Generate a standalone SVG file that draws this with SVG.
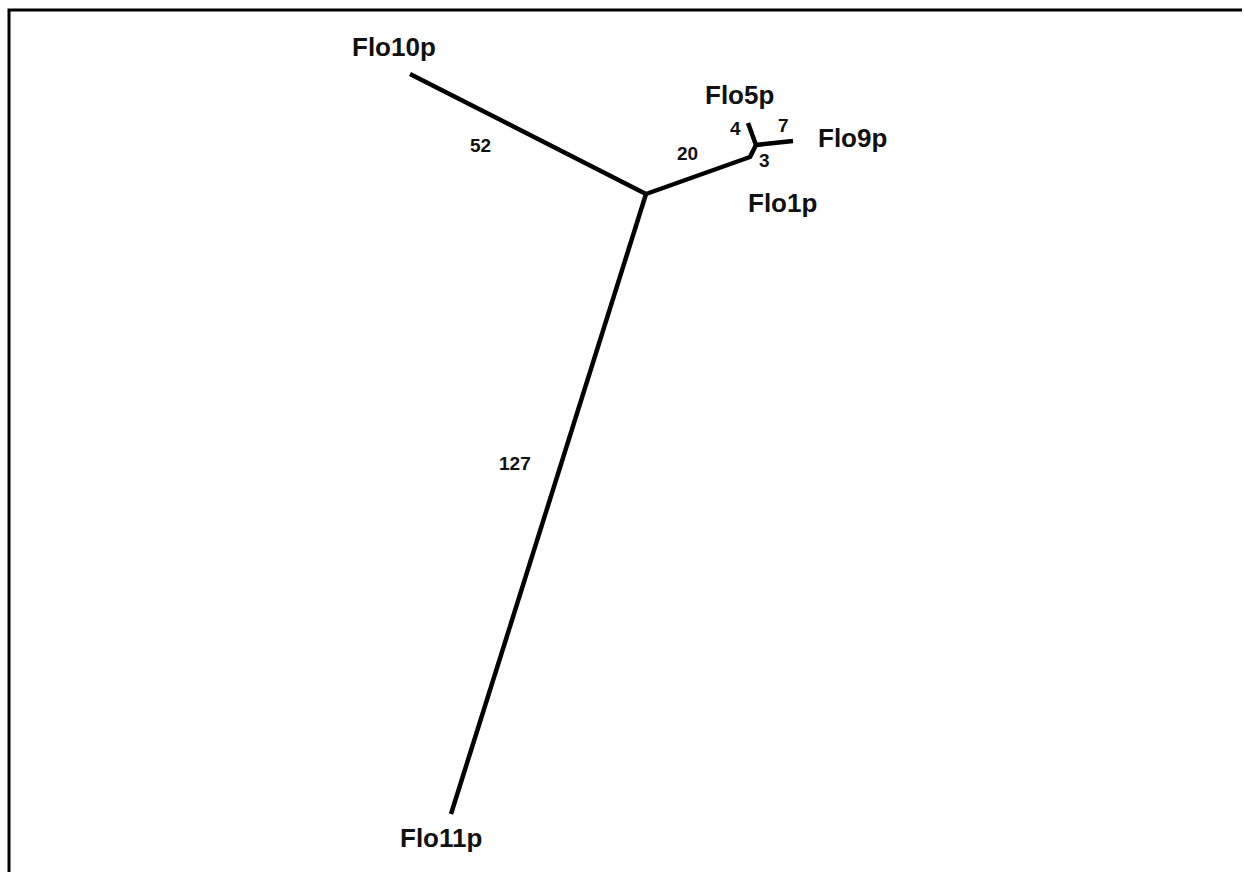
<svg xmlns="http://www.w3.org/2000/svg" width="1244" height="872" viewBox="0 0 1244 872">
<style>
.lbl{font-family:"Liberation Sans",Arial,sans-serif;font-weight:bold;font-size:26px;fill:#111}
.num{font-family:"Liberation Sans",Arial,sans-serif;font-weight:bold;font-size:19px;fill:#111}
.br{stroke:#000;stroke-width:4.5;fill:none;stroke-linecap:butt;stroke-linejoin:round}
</style>
<rect width="1244" height="872" fill="#fff"/>
<path d="M9,872 V10 H1242" stroke="#000" stroke-width="3" fill="none"/>
<g id="edges" class="br">
<path d="M646,194 L410,74"/>
<path d="M646,194 L451,814"/>
<path d="M646,194 L750,157 L756,145"/>
<path d="M756,145 L748,123"/>
<path d="M756,145 L793,141"/>
</g>
<g id="Flo10p"><text class="lbl" x="352" y="56">Flo10p</text><text class="num" x="470" y="152">52</text></g>
<g id="Flo11p"><text class="lbl" x="400" y="847">Flo11p</text><text class="num" x="499" y="470">127</text></g>
<g id="internal"><text class="num" x="677" y="160">20</text></g>
<g id="Flo5p"><text class="lbl" x="705" y="104">Flo5p</text><text class="num" x="730" y="135">4</text></g>
<g id="Flo9p"><text class="lbl" x="818" y="147">Flo9p</text><text class="num" x="778" y="132">7</text></g>
<g id="Flo1p"><text class="lbl" x="748" y="212">Flo1p</text><text class="num" x="759" y="167">3</text></g>
</svg>
